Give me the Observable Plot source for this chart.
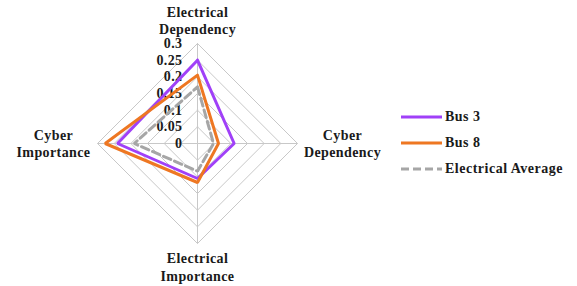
<!DOCTYPE html>
<html>
<head>
<meta charset="utf-8">
<script src="https://cdn.jsdelivr.net/npm/d3@7"></script>
<script src="https://cdn.jsdelivr.net/npm/@observablehq/plot@0.6"></script>
<style>
  html, body { margin: 0; padding: 0; background: #fff; }
  #wrap { position: relative; width: 577px; height: 286px; font-family: "Liberation Serif", "Times New Roman", "DejaVu Serif", serif; }
  #legend { position: absolute; left: 401px; top: 104px; font-weight: bold; font-size: 14px; letter-spacing: 0.5px; color: #1a1a1a; }
  .item { display: flex; align-items: center; height: 26px; }
  .item svg { margin-right: 3px; }
</style>
</head>
<body>
<div id="wrap"></div>
<script>
const axisLabels = ["Electrical\nDependency", "Cyber\nDependency", "Electrical\nImportance", "Cyber\nImportance"];
const seriesNames = ["Bus 3", "Bus 8", "Electrical Average"];
const bus3 = [0.25, 0.11, 0.105, 0.24];
const bus8 = [0.205, 0.063, 0.117, 0.277];
const elecAvg = [0.17, 0.048, 0.083, 0.19];
const tickValues = [0, 0.05, 0.1, 0.15, 0.2, 0.25, 0.3];
const tickLabels = ["0", "0.05", "0.1", "0.15", "0.2", "0.25", "0.3"];
const colors = ["#A040F8", "#EE7722", "#A6A6A6"];
const dashes = [null, null, "8,4"];

const maxV = 0.3;
const n = axisLabels.length;
const ang = i => i * 2 * Math.PI / n;
const px = (v, i) => Math.round(v * Math.sin(ang(i)) * 1e9) / 1e9;
const py = (v, i) => Math.round(v * Math.cos(ang(i)) * 1e9) / 1e9;

// grid rings
const rings = [];
tickValues.slice(1).forEach(t => {
  for (let i = 0; i <= n; i++) rings.push({t, x: px(t, i % n), y: py(t, i % n)});
});
// spokes
const spokes = axisLabels.map((a, i) => ({x1: 0, y1: 0, x2: px(maxV, i), y2: py(maxV, i)}));
// series
const allSeries = [bus3, bus8, elecAvg];
const seriesPts = allSeries.map((vals, s) => {
  const pts = [];
  for (let i = 0; i <= n; i++) pts.push({s, x: px(vals[i % n], i % n), y: py(vals[i % n], i % n)});
  return pts;
});
const labelPts = axisLabels.map((a, i) => ({label: a, i, x: px(maxV, i), y: py(maxV, i)}));
const labelOpts = [
  {dx: 0, dy: -10, lineAnchor: "bottom", lh: 1.15},
  {dx: 45, dy: 0, lineAnchor: "middle", lh: 1.2},
  {dx: 0, dy: 7, lineAnchor: "top", lh: 1.28},
  {dx: -44, dy: 0, lineAnchor: "middle", lh: 1.2}
];
const textStyle = {fontFamily: "Liberation Serif", fontWeight: "bold", fontSize: 14, fill: "#1a1a1a"};

const marks = [
  Plot.line(rings, {x: "x", y: "y", z: "t", stroke: "#c8c8c8", strokeWidth: 1}),
  Plot.link(spokes, {x1: "x1", y1: "y1", x2: "x2", y2: "y2", stroke: "#c8c8c8", strokeWidth: 1}),
  Plot.text(tickValues.map((t, k) => ({t, label: tickLabels[k]})), {
    x: () => 0, y: "t", text: "label", textAnchor: "end", dx: -15, ...textStyle
  }),
  ...seriesPts.map((pts, s) => Plot.line(pts, {
    x: "x", y: "y", stroke: colors[s], strokeWidth: 3, strokeLinejoin: "miter",
    strokeDasharray: dashes[s] || undefined
  })),
  ...labelPts.map((d, i) => Plot.text([d], {
    x: "x", y: "y", text: "label", textAnchor: "middle", lineHeight: labelOpts[i].lh,
    dx: labelOpts[i].dx, dy: labelOpts[i].dy, lineAnchor: labelOpts[i].lineAnchor,
    ...textStyle
  }))
];

const chart = Plot.plot({
  width: 577, height: 286, margin: 0,
  x: {domain: [-maxV, maxV], range: [97, 297], axis: null},
  y: {domain: [-maxV, maxV], range: [243, 43], axis: null},
  style: {background: "transparent", fontFamily: "Liberation Serif, serif"},
  marks
});
chart.querySelectorAll("text").forEach(t => t.style.letterSpacing = "0.4px");
const wrap = document.getElementById("wrap");
wrap.appendChild(chart);

const legend = document.createElement("div");
legend.id = "legend";
seriesNames.forEach((name, s) => {
  const item = document.createElement("div");
  item.className = "item";
  item.innerHTML = `<svg width="41" height="6"><line x1="0" y1="3" x2="41" y2="3" stroke="${colors[s]}" stroke-width="3" ${dashes[s] ? `stroke-dasharray="${dashes[s]}"` : ""}/></svg><span>${name}</span>`;
  legend.appendChild(item);
});
wrap.appendChild(legend);
</script>
</body>
</html>
